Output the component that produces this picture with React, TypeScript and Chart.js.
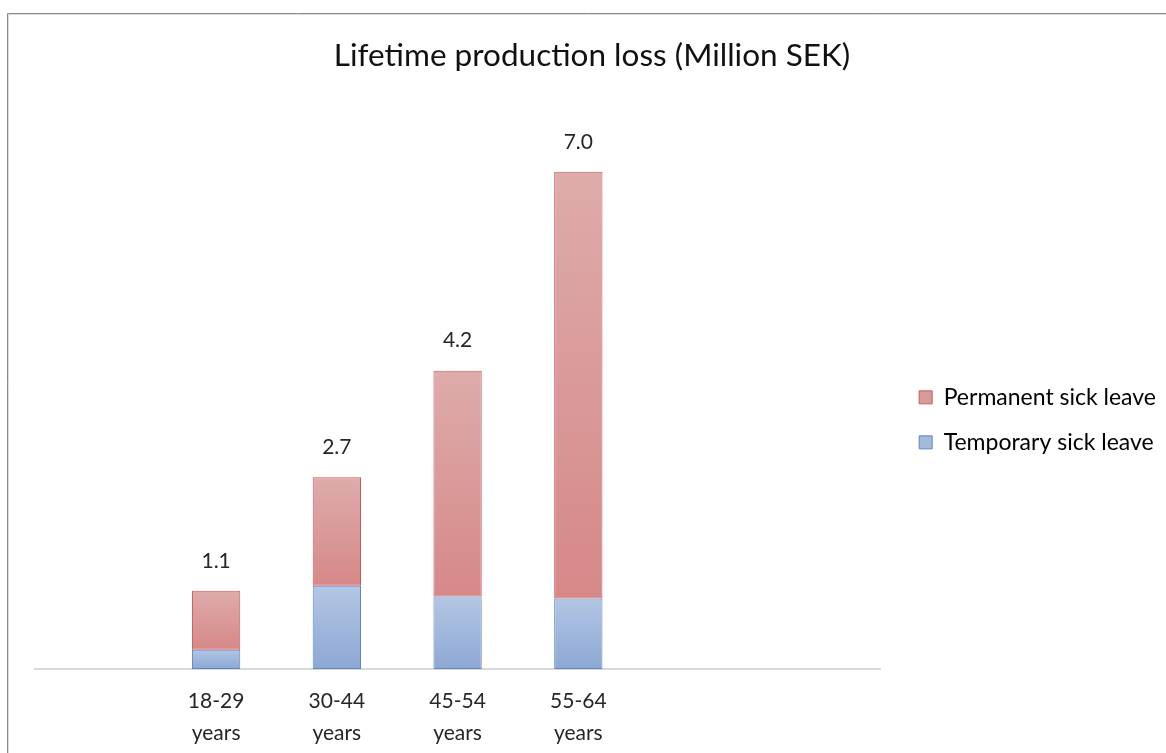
import React, { useEffect, useRef } from "react";
import { Chart, registerables } from "chart.js";

Chart.register(...registerables);

const categories: (string | string[])[] = [
  "",
  ["18-29", "years"],
  ["30-44", "years"],
  ["45-54", "years"],
  ["55-64", "years"],
  "",
  "",
];
const temporary: (number | null)[] = [null, 0.27, 1.17, 1.02, 0.99, null, null];
const permanent: (number | null)[] = [null, 0.83, 1.53, 3.18, 6.01, null, null];
const seriesNames = ["Temporary sick leave", "Permanent sick leave"];
const chartTitle = "Lifetime production loss (Million SEK)";
const yMin = 0;
const yMax = 8;

const FONT = "Lato, 'Noto Sans', sans-serif";
const TEXT = "#262626";

function gradFill(top: string, bottom: string, lower: (number | null)[] | null, values: (number | null)[]) {
  return (ctx: any) => {
    const chart = ctx.chart;
    const y = chart.scales && chart.scales.y;
    const i = ctx.dataIndex;
    if (!y || i == null || ctx.type !== "data") return bottom;
    const lo = lower ? (lower[i] ?? 0) : 0;
    const hi = lo + (values[i] ?? 0);
    const y0 = y.getPixelForValue(hi);
    const y1 = y.getPixelForValue(lo);
    if (!isFinite(y0) || !isFinite(y1) || y0 === y1) return bottom;
    const g = chart.ctx.createLinearGradient(0, y0, 0, y1);
    g.addColorStop(0, top);
    g.addColorStop(1, bottom);
    return g;
  };
}

const framePlugin = {
  id: "frame",
  beforeDraw(chart: any) {
    const c = chart.ctx;
    c.save();
    c.fillStyle = "#ffffff";
    c.fillRect(0, 0, chart.width, chart.height);
    c.lineWidth = 1;
    c.strokeStyle = "#8a8a8a";
    c.beginPath();
    c.moveTo(7.5, chart.height + 2);
    c.lineTo(7.5, 13.5);
    c.lineTo(chart.width + 2, 13.5);
    c.stroke();
    c.strokeStyle = "#dcdcdc";
    c.beginPath();
    c.moveTo(8.5, chart.height + 2);
    c.lineTo(8.5, 14.5);
    c.lineTo(chart.width + 2, 14.5);
    c.stroke();
    c.restore();
    // place legend: a gap to the right of the plot, centred a little below the plot's middle
    const lg = chart.legend;
    const area = chart.chartArea;
    if (lg && area) {
      const w = lg.right - lg.left;
      lg.left = area.right + 17;
      lg.right = lg.left + w;
      const h = lg.bottom - lg.top;
      const mid = (area.top + area.bottom) / 2 + 35;
      lg.top = mid - h / 2;
      lg.bottom = mid + h / 2;
    }
  },
};

const totalsPlugin = {
  id: "totals",
  afterDatasetsDraw(chart: any) {
    const c = chart.ctx;
    const y = chart.scales.y;
    const x = chart.scales.x;
    c.save();
    c.font = `21px ${FONT}`;
    c.fillStyle = TEXT;
    c.textAlign = "center";
    c.textBaseline = "middle";
    categories.forEach((_, i) => {
      const t = temporary[i];
      const p = permanent[i];
      if (t == null && p == null) return;
      const total = (t ?? 0) + (p ?? 0);
      c.fillText(total.toFixed(1), x.getPixelForValue(i), y.getPixelForValue(total) - 30);
    });
    c.restore();
  },
};

export default function App() {
  const ref = useRef<HTMLCanvasElement>(null);
  useEffect(() => {
    document.body.style.margin = "0";
    const chart = new Chart(ref.current!, {
      type: "bar",
      data: {
        labels: categories as any,
        datasets: [
          {
            label: seriesNames[0],
            data: temporary,
            backgroundColor: gradFill("#b3c6e3", "#8da8d5", null, temporary) as any,
            borderColor: "#5b86c3",
            borderWidth: 1,
            borderSkipped: false,
            barPercentage: 0.4,
            categoryPercentage: 1,
          },
          {
            label: seriesNames[1],
            data: permanent,
            backgroundColor: gradFill("#deabab", "#d68887", temporary, permanent) as any,
            borderColor: "#c9595a",
            borderWidth: 1,
            borderSkipped: false,
            barPercentage: 0.4,
            categoryPercentage: 1,
          },
        ],
      },
      options: {
        responsive: false,
        animation: false,
        layout: { padding: { left: 35, right: 17, top: 37, bottom: -13 } },
        plugins: {
          title: {
            display: true,
            text: chartTitle,
            color: "#111111",
            font: { family: FONT, size: 31.5, weight: "normal" as any, lineHeight: 1.2 },
            padding: { top: 0, bottom: 26 },
          },
          legend: {
            position: "right",
            align: "center",
            labels: {
              color: TEXT,
              font: { family: FONT, size: 23 },
              boxWidth: 13,
              boxHeight: 13,
              padding: 22,
              generateLabels: () => [
                { text: seriesNames[1], fillStyle: "#d99a99", strokeStyle: "#c9595a", lineWidth: 1, datasetIndex: 1, hidden: false } as any,
                { text: seriesNames[0], fillStyle: "#a4badd", strokeStyle: "#5b86c3", lineWidth: 1, datasetIndex: 0, hidden: false } as any,
              ],
            },
          },
          tooltip: { enabled: false },
        },
        scales: {
          x: {
            stacked: true,
            grid: { display: false, drawTicks: false },
            border: { display: true, color: "#d9d9d9", width: 2 },
            ticks: {
              color: TEXT,
              font: { family: FONT, size: 21, lineHeight: 1.55 },
              padding: 16,
              maxRotation: 0,
              autoSkip: false,
            },
          },
          y: {
            stacked: true,
            display: false,
            min: yMin,
            max: yMax,
          },
        },
      },
      plugins: [framePlugin, totalsPlugin],
    });
    return () => chart.destroy();
  }, []);
  return (
    <div style={{ position: "fixed", left: 0, top: 0, width: 1166, height: 753 }}>
      <canvas ref={ref} width={1166} height={753} />
    </div>
  );
}
